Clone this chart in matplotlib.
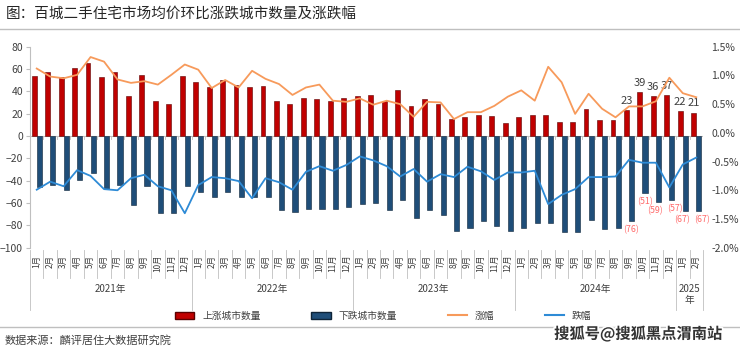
import numpy as np
import matplotlib
matplotlib.use('Agg')
import matplotlib.pyplot as plt
from matplotlib.patches import Patch
from matplotlib.lines import Line2D
import matplotlib.patheffects as pe

plt.rcParams['font.family'] = ['Noto Sans CJK SC', 'DejaVu Sans']

# data, Jan 2021 - Feb 2025
years = ['2021年', '2022年', '2023年', '2024年', '2025\n年']
months_per_year = [12, 12, 12, 12, 2]
month_labels = [f'{m}月' for n in months_per_year for m in range(1, n + 1)]

up_cities = [54, 57, 53, 61, 65, 53, 57, 36, 55, 31, 29, 54,
             48, 44, 50, 46, 44, 45, 31, 29, 34, 33, 31, 34,
             36, 37, 31, 41, 27, 33, 29, 15, 17, 19, 18, 12,
             17, 19, 19, 13, 13, 24, 14, 14, 23, 39, 36, 37,
             22, 21]
down_cities = [-46, -44, -48, -39, -33, -47, -44, -62, -45, -69, -69, -45,
               -50, -55, -50, -55, -55, -55, -66, -68, -65, -65, -65, -64,
               -61, -60, -66, -57, -73, -66, -71, -85, -82, -76, -81, -85,
               -82, -78, -78, -86, -86, -75, -83, -82, -76, -51, -59, -57,
               -67, -67]
rise_pct = [1.12, 0.98, 0.95, 1.01, 1.32, 1.24, 0.93, 0.87, 0.90, 0.84, 1.01, 1.19,
            1.10, 0.78, 0.92, 0.79, 1.08, 0.94, 0.85, 0.66, 0.79, 0.84, 0.56, 0.54,
            0.60, 0.49, 0.56, 0.50, 0.28, 0.54, 0.53, 0.24, 0.36, 0.36, 0.47, 0.63,
            0.74, 0.56, 1.15, 0.88, 0.33, 0.68, 0.42, 0.27, 0.46, 0.46, 0.55, 0.96,
            0.69, 0.62]
fall_pct = [-0.99, -0.85, -0.93, -0.65, -0.75, -0.98, -1.00, -0.79, -0.73, -0.93, -1.00, -1.40,
            -0.91, -0.77, -0.79, -0.84, -1.14, -0.79, -0.86, -0.99, -0.68, -0.58, -0.66, -0.56,
            -0.41, -0.48, -0.58, -0.76, -0.63, -0.85, -0.72, -0.77, -0.59, -0.67, -0.82, -0.69,
            -0.69, -0.66, -1.24, -1.08, -0.98, -0.77, -0.77, -0.76, -0.47, -0.52, -0.52, -0.95,
            -0.55, -0.43]

red = '#C00000'
navy = '#1F4E79'
orange = '#F79A5B'
lblue = '#2E8BD6'
grey = '#BFBFBF'

fig = plt.figure(figsize=(7.4, 3.52), dpi=100)
W, H = 740, 352
ax = fig.add_axes([30 / W, (H - 247.7) / H, 673 / W, 201 / H])

x = np.arange(len(month_labels))
ax.bar(x - 0.19, up_cities, 0.36, color=red, edgecolor='#5A0000', linewidth=0.4, zorder=2)
ax.bar(x + 0.19, down_cities, 0.38, color=navy, edgecolor='#0E2438', linewidth=0.4, zorder=2)
ax.set_xlim(-0.5, len(x) - 0.5)
ax.set_ylim(-100, 80)
ax.set_yticks(range(-100, 81, 20))
ax.set_xticks([])
for s in ['top', 'right', 'bottom']:
    ax.spines[s].set_visible(False)
ax.spines['left'].set_color(grey)
ax.tick_params(axis='y', length=3, color=grey, labelsize=7.5, labelcolor='#404040', pad=2)

# zero line with small boundary ticks
ax.axhline(0, color=grey, lw=0.8, zorder=1)
for b in np.arange(-0.5, len(x)):
    ax.plot([b, b], [0, -2.5], color=grey, lw=0.6, zorder=1)

# category axis at the bottom
trans = ax.get_xaxis_transform()
year_bounds = np.cumsum([0] + months_per_year) - 0.5
for b in np.arange(-0.5, len(x)):
    bottom = -0.31 if b in year_bounds else -0.15
    ax.plot([b, b], [-0.01, bottom], transform=trans, clip_on=False, color=grey, lw=0.6)
for i, lab in enumerate(month_labels):
    ax.text(i, -0.035, lab, rotation=90, ha='center', va='top', fontsize=6,
            color='#404040', transform=trans)
for k, yr in enumerate(years):
    ax.text((year_bounds[k] + year_bounds[k + 1]) / 2, -0.18, yr, ha='center', va='top',
            fontsize=7, color='#404040', transform=trans, linespacing=1.1)

# data labels (neighbouring negative labels nudged apart a little)
nudge = {46: -2.5, 47: 2.5, 48: -2.5, 49: 2.5}
for i in range(44, len(x)):
    ax.annotate(str(up_cities[i]), (x[i] - 0.19, up_cities[i]), xytext=(0, 3),
                textcoords='offset points', ha='center', va='bottom', fontsize=8, color='#404040')
    ax.annotate(f'({-down_cities[i]})', (x[i] + 0.19, down_cities[i]), xytext=(nudge.get(i, 0), -3),
                textcoords='offset points', ha='center', va='top', fontsize=6.4, color='#FF6B6B')

# percentage lines
ax2 = ax.twinx()
ax2.plot(x, rise_pct, color=orange, lw=1.3)
ax2.plot(x, fall_pct, color=lblue, lw=1.3)
ax2.set_ylim(-2.0, 1.5)
ax2.set_yticks(np.arange(-2.0, 1.51, 0.5))
ax2.set_yticklabels([f'{v:.1f}%' for v in np.arange(-2.0, 1.51, 0.5)])
for s in ax2.spines.values():
    s.set_visible(False)
ax2.tick_params(axis='y', length=0, labelsize=7.5, labelcolor='#404040', pad=6)

# legend
handles = [Patch(facecolor=red, edgecolor='#5A0000'), Patch(facecolor=navy, edgecolor='#0E2438'),
           Line2D([], [], color=orange, lw=1.5), Line2D([], [], color=lblue, lw=1.5)]
labels = ['上涨城市数量', '下跌城市数量', '涨幅', '跌幅']
fig.legend(handles, labels, loc='center', bbox_to_anchor=(0.518, 1 - 316 / H), ncol=4,
           frameon=False, fontsize=7, handlelength=2.0, handleheight=0.8, columnspacing=5.2,
           labelcolor='#404040')

# title, rules, source
fig.text(6 / W, 1 - 14 / H, '图：百城二手住宅市场均价环比涨跌城市数量及涨跌幅',
         fontsize=10.5, va='center', color='#262626')
fig.add_artist(Line2D([0, 1], [1 - 29 / H] * 2, color=grey, lw=1, transform=fig.transFigure))
fig.add_artist(Line2D([0, 1], [1 - 327 / H] * 2, color=grey, lw=1, transform=fig.transFigure))
fig.text(5 / W, 1 - 340 / H, '数据来源：麟评居住大数据研究院', fontsize=8, va='center', color='#404040')
fig.text(722 / W, 1 - 334 / H, '搜狐号@搜狐黑点渭南站', ha='right', va='center', fontsize=11,
         fontweight='bold', color='#333333',
         path_effects=[pe.withStroke(linewidth=2.5, foreground='white')])

fig.savefig('out.png', dpi=100)
